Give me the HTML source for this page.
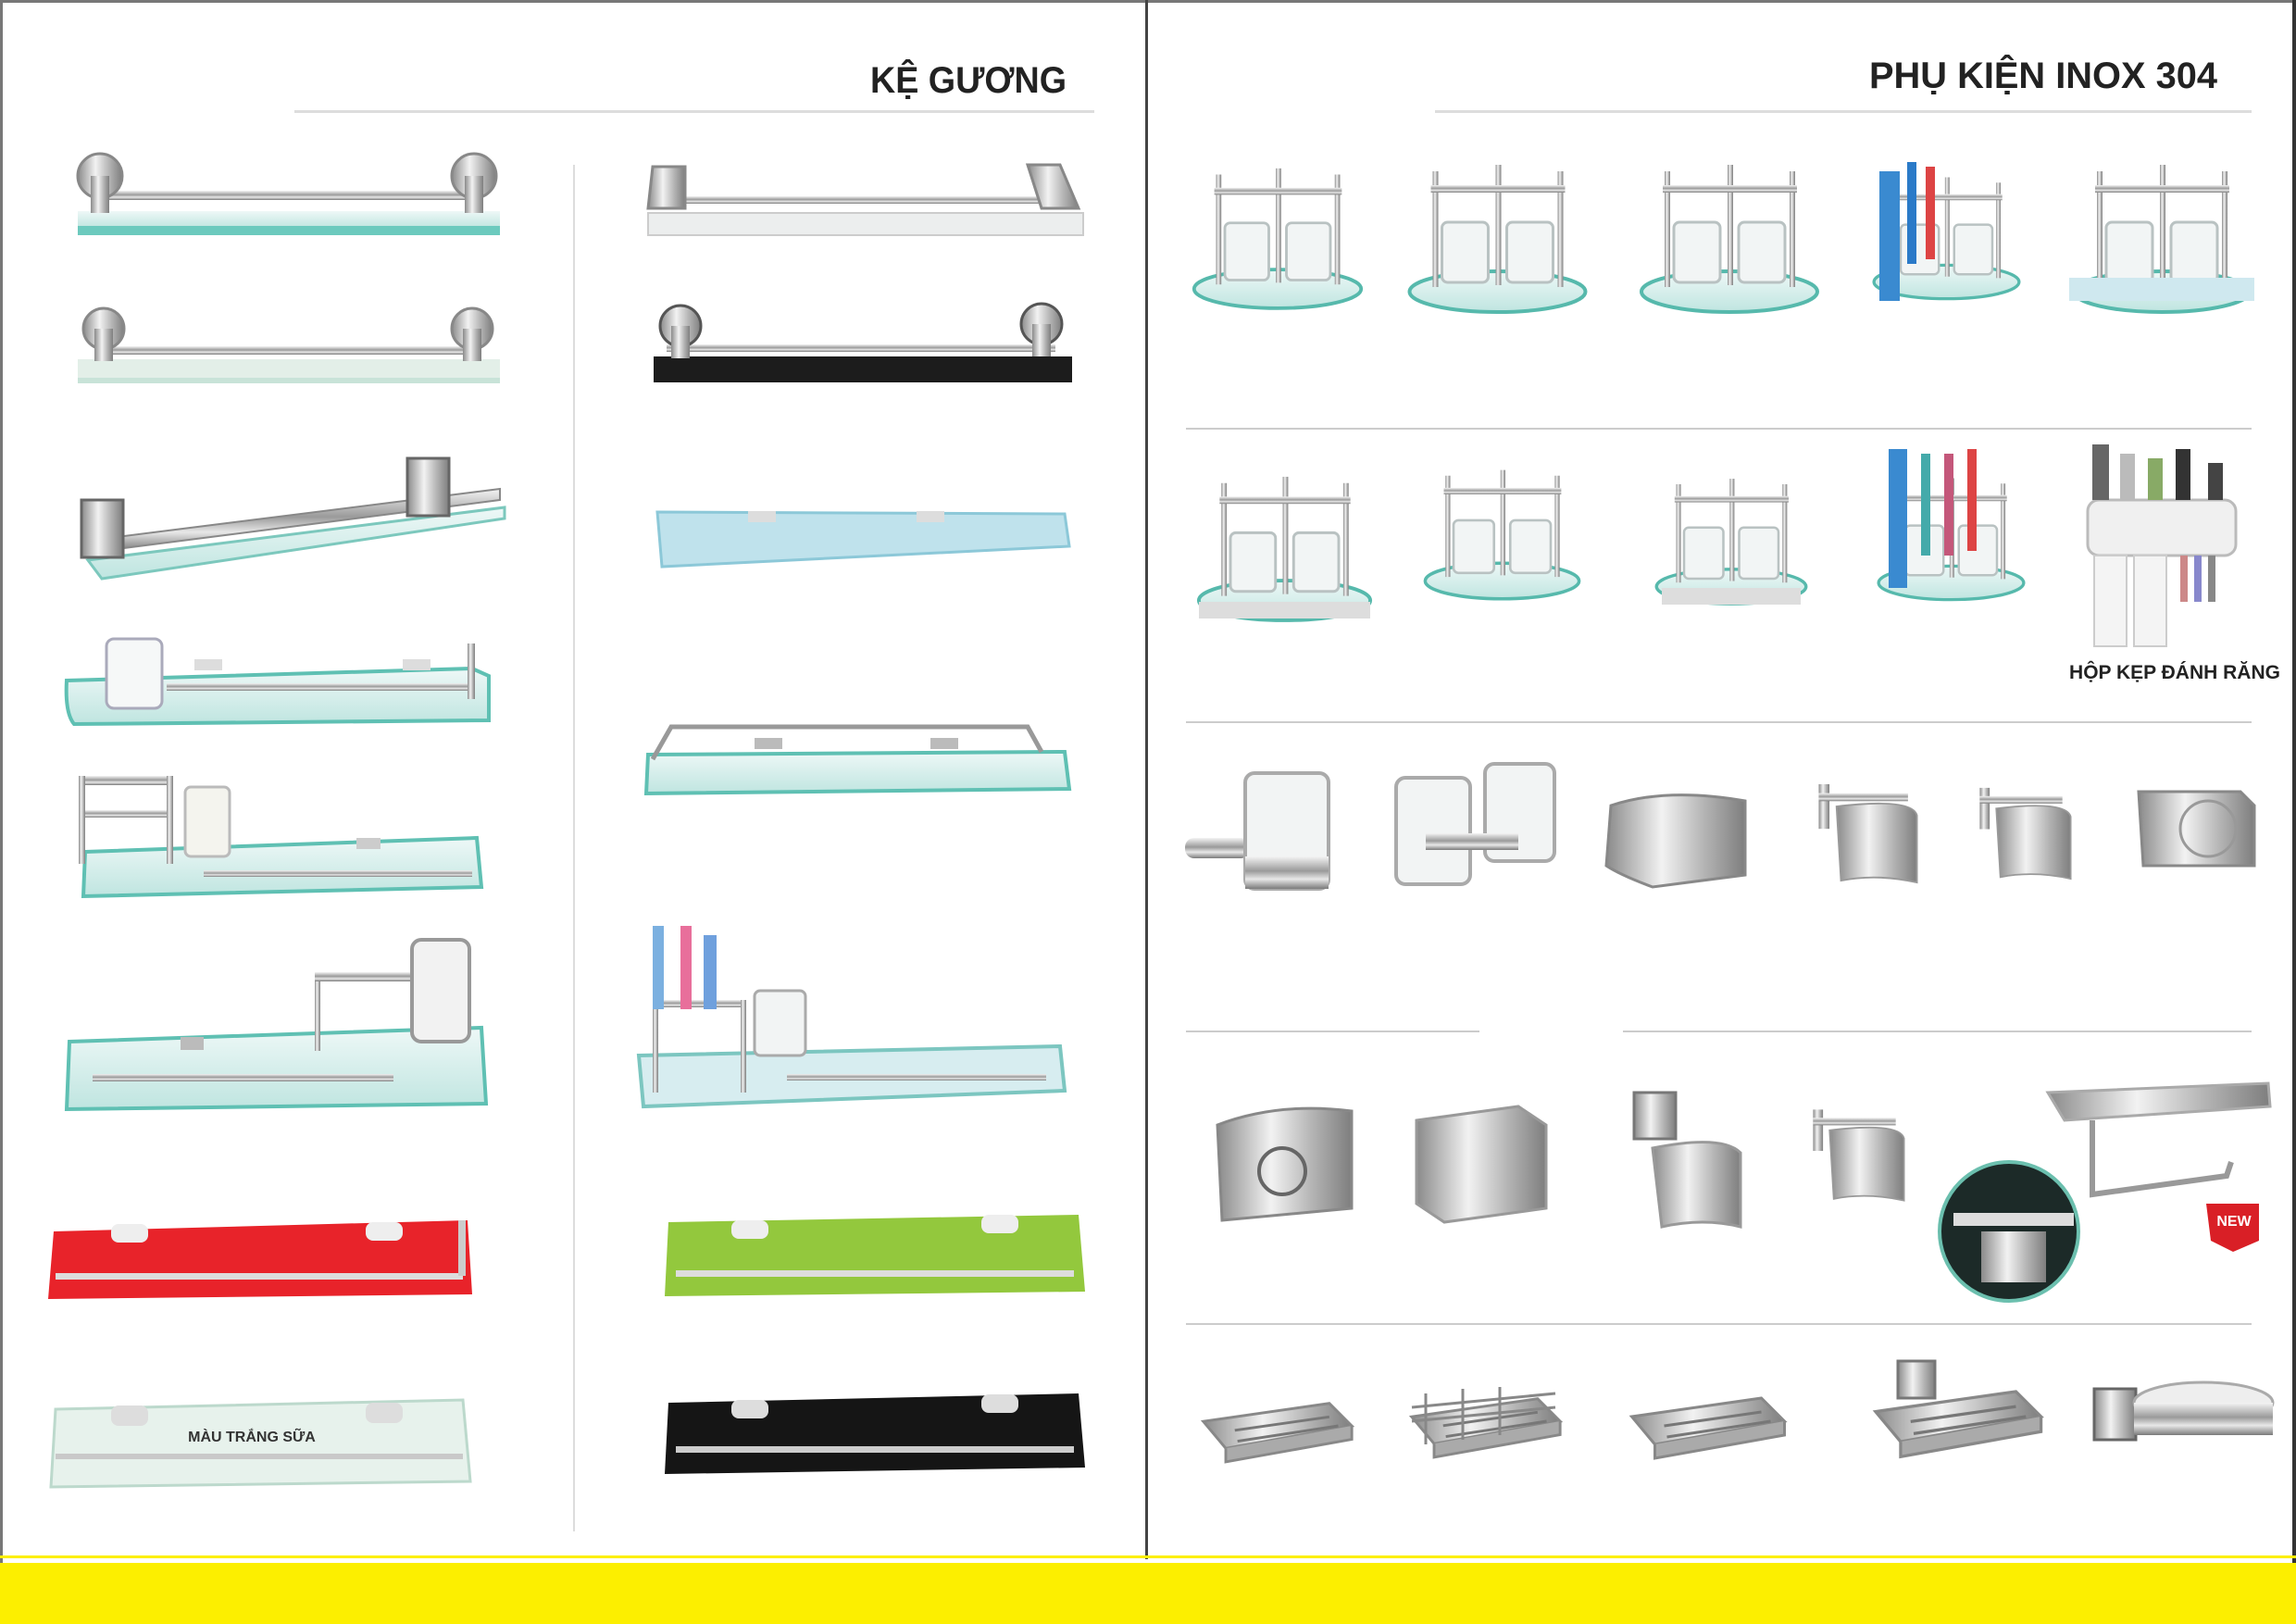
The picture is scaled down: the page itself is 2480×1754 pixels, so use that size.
<!DOCTYPE html>
<html><head><meta charset="utf-8"><style>
html,body{margin:0;padding:0;background:#fff}
svg{display:block}
text{font-family:"Liberation Sans","DejaVu Sans",sans-serif;font-weight:bold}
</style></head><body>
<svg width="2480" height="1754" viewBox="0 0 2480 1754" xmlns="http://www.w3.org/2000/svg">
<defs>
<linearGradient id="mt" x1="0" y1="0" x2="0" y2="1"><stop offset="0" stop-color="#f4f4f4"/><stop offset=".45" stop-color="#9a9a9a"/><stop offset=".7" stop-color="#e8e8e8"/><stop offset="1" stop-color="#7a7a7a"/></linearGradient>
<linearGradient id="mh" x1="0" y1="0" x2="1" y2="0"><stop offset="0" stop-color="#8a8a8a"/><stop offset=".4" stop-color="#f2f2f2"/><stop offset=".7" stop-color="#b5b5b5"/><stop offset="1" stop-color="#7e7e7e"/></linearGradient>
<linearGradient id="gl" x1="0" y1="0" x2="0" y2="1"><stop offset="0" stop-color="#eef8f7"/><stop offset="1" stop-color="#bfe5e0"/></linearGradient>
<symbol id="caddy" viewBox="0 0 200 170"><ellipse cx="100" cy="145" rx="95" ry="22" fill="url(#gl)" stroke="#56b9ac" stroke-width="4"/><rect x="30" y="15" width="6" height="125" fill="url(#mh)"/><rect x="165" y="15" width="6" height="125" fill="url(#mh)"/><rect x="98" y="8" width="6" height="130" fill="url(#mh)"/><rect x="28" y="30" width="145" height="8" fill="url(#mt)"/><rect x="40" y="70" width="50" height="65" rx="6" fill="#f2f5f5" stroke="#b9c2c2" stroke-width="3"/><rect x="110" y="70" width="50" height="65" rx="6" fill="#f2f5f5" stroke="#b9c2c2" stroke-width="3"/></symbol>
<symbol id="tp" viewBox="0 0 140 130"><rect x="15" y="10" width="12" height="50" fill="url(#mh)"/><rect x="15" y="20" width="100" height="9" fill="url(#mt)"/><path d="M35 35 Q120 25 125 45 L125 120 Q80 110 40 118 Z" fill="url(#mh)" stroke="#999" stroke-width="2"/></symbol>
<symbol id="soap" viewBox="0 0 180 110"><path d="M10 50 L150 30 L175 55 L35 80 Z" fill="url(#mh)" stroke="#888" stroke-width="3"/><path d="M35 80 L35 95 L175 70 L175 55" fill="#aaa" stroke="#888" stroke-width="3"/><path d="M45 60 L150 45 M48 72 L160 55" stroke="#777" stroke-width="3"/></symbol>
</defs>

<rect x="0" y="0" width="2480" height="3" fill="#777"/>
<rect x="0" y="0" width="3" height="1690" fill="#777"/>
<rect x="2476" y="0" width="4" height="1690" fill="#333"/>
<rect x="1237" y="0" width="3" height="1684" fill="#444"/>
<rect x="0" y="1680" width="2480" height="3" fill="#fcef00"/>
<rect x="0" y="1688" width="2480" height="66" fill="#fcef00"/>

<text x="940" y="100" font-size="40" fill="#222" textLength="212" lengthAdjust="spacingAndGlyphs">KỆ GƯƠNG</text>
<rect x="318" y="119" width="864" height="3" fill="#ddd"/>
<text x="2019" y="95" font-size="40" fill="#222" textLength="376" lengthAdjust="spacingAndGlyphs">PHỤ KIỆN INOX 304</text>
<rect x="1550" y="119" width="882" height="3" fill="#ddd"/>
<rect x="619" y="178" width="2" height="1476" fill="#ddd"/>

<g>
<rect x="84" y="228" width="456" height="18" fill="url(#gl)"/><rect x="84" y="244" width="456" height="10" fill="#6ccabe"/>
<rect x="105" y="206" width="410" height="10" fill="url(#mt)"/>
<circle cx="108" cy="190" r="24" fill="url(#mh)" stroke="#888" stroke-width="3"/><circle cx="512" cy="190" r="24" fill="url(#mh)" stroke="#888" stroke-width="3"/>
<rect x="98" y="190" width="20" height="40" fill="url(#mh)"/><rect x="502" y="190" width="20" height="40" fill="url(#mh)"/>
</g>
<g>
<rect x="84" y="388" width="456" height="26" fill="#e3efe8"/><rect x="84" y="408" width="456" height="6" fill="#c8e3d8"/>
<rect x="105" y="374" width="410" height="9" fill="url(#mt)"/>
<circle cx="112" cy="355" r="22" fill="url(#mh)" stroke="#888" stroke-width="3"/><circle cx="510" cy="355" r="22" fill="url(#mh)" stroke="#888" stroke-width="3"/>
<rect x="102" y="355" width="20" height="35" fill="url(#mh)"/><rect x="500" y="355" width="20" height="35" fill="url(#mh)"/>
</g>
<g>
<polygon points="95,605 545,548 545,560 110,625" fill="url(#gl)" stroke="#7cc8bd" stroke-width="3"/>
<polygon points="110,582 540,528 540,540 110,595" fill="url(#mt)" stroke="#888" stroke-width="2"/>
<rect x="88" y="540" width="45" height="62" fill="url(#mh)" stroke="#666" stroke-width="3"/>
<rect x="440" y="495" width="45" height="62" fill="url(#mh)" stroke="#666" stroke-width="3"/>
</g>
<g>
<path d="M72 735 L510 722 L528 730 L528 778 L80 782 Q70 770 72 735 Z" fill="url(#gl)" stroke="#5fc0b3" stroke-width="4"/>
<rect x="115" y="690" width="60" height="75" rx="8" fill="#f6f8f8" stroke="#aab" stroke-width="3"/>
<rect x="180" y="738" width="330" height="8" fill="url(#mt)"/>
<rect x="505" y="695" width="8" height="60" fill="url(#mh)"/>
<rect x="210" y="712" width="30" height="12" fill="#ddd"/><rect x="435" y="712" width="30" height="12" fill="#ddd"/>
</g>
<g>
<polygon points="92,920 515,905 520,958 90,968" fill="url(#gl)" stroke="#5fc0b3" stroke-width="4"/>
<rect x="85" y="838" width="100" height="10" fill="url(#mt)"/><rect x="85" y="875" width="100" height="8" fill="url(#mt)"/>
<rect x="85" y="838" width="7" height="95" fill="url(#mh)"/><rect x="180" y="838" width="7" height="95" fill="url(#mh)"/>
<rect x="200" y="850" width="48" height="75" rx="6" fill="#f4f4ee" stroke="#bbb" stroke-width="3"/>
<rect x="220" y="940" width="290" height="7" fill="url(#mt)"/>
<rect x="385" y="905" width="26" height="12" fill="#ccc"/>
</g>
<g>
<polygon points="75,1125 520,1110 525,1192 72,1198" fill="url(#gl)" stroke="#5fc0b3" stroke-width="4"/>
<rect x="100" y="1160" width="325" height="8" fill="url(#mt)"/>
<rect x="195" y="1120" width="25" height="14" fill="#bbb"/>
<rect x="340" y="1050" width="120" height="10" fill="url(#mt)"/>
<rect x="340" y="1060" width="6" height="75" fill="url(#mh)"/>
<rect x="445" y="1015" width="62" height="110" rx="10" fill="#f2f2f2" stroke="#999" stroke-width="4"/>
</g>
<g>
<polygon points="58,1330 505,1318 510,1398 52,1403" fill="#e8232a"/>
<rect x="60" y="1375" width="440" height="7" fill="#ddd"/>
<rect x="120" y="1322" width="40" height="20" rx="8" fill="#eee"/><rect x="395" y="1320" width="40" height="20" rx="8" fill="#eee"/>
<rect x="495" y="1318" width="8" height="60" fill="#ccc"/>
</g>
<g>
<polygon points="60,1522 500,1512 508,1600 55,1606" fill="#e7f2ec" stroke="#bcd9cc" stroke-width="3"/>
<rect x="60" y="1570" width="440" height="6" fill="#c9c9c9"/>
<rect x="120" y="1518" width="40" height="22" rx="8" fill="#ddd"/><rect x="395" y="1515" width="40" height="22" rx="8" fill="#ddd"/>
<text x="272" y="1557" font-size="16" fill="#333" text-anchor="middle">MÀU TRẮNG SỮA</text>
</g>

<g>
<rect x="700" y="230" width="470" height="24" fill="#eceeee" stroke="#ccc" stroke-width="2"/>
<rect x="715" y="212" width="440" height="8" fill="url(#mt)"/>
<polygon points="705,180 740,180 740,225 700,225" fill="url(#mh)" stroke="#888" stroke-width="3"/>
<polygon points="1110,178 1145,178 1165,225 1125,225" fill="url(#mh)" stroke="#888" stroke-width="3"/>
</g>
<g>
<rect x="706" y="385" width="452" height="28" fill="#1c1c1c"/>
<rect x="720" y="372" width="420" height="8" fill="url(#mt)"/>
<circle cx="735" cy="352" r="22" fill="url(#mh)" stroke="#555" stroke-width="3"/><circle cx="1125" cy="350" r="22" fill="url(#mh)" stroke="#555" stroke-width="3"/>
<rect x="725" y="352" width="20" height="35" fill="url(#mh)"/><rect x="1115" y="350" width="20" height="35" fill="url(#mh)"/>
</g>
<g>
<polygon points="710,553 1150,555 1155,590 715,612" fill="#bfe2ec" stroke="#8cc8d8" stroke-width="3"/>
<rect x="808" y="552" width="30" height="12" fill="#ddd"/><rect x="990" y="552" width="30" height="12" fill="#ddd"/>
</g>
<g>
<polygon points="700,815 1150,812 1155,852 698,857" fill="url(#gl)" stroke="#5fc0b3" stroke-width="4"/>
<polyline points="705,820 725,785 1110,785 1125,812" fill="none" stroke="#999" stroke-width="5"/>
<rect x="815" y="797" width="30" height="12" fill="#bbb"/><rect x="1005" y="797" width="30" height="12" fill="#bbb"/>
</g>
<g>
<polygon points="690,1140 1145,1130 1150,1178 695,1195" fill="#d7edf0" stroke="#7cc6c0" stroke-width="4"/>
<rect x="705" y="1080" width="100" height="8" fill="url(#mt)"/>
<rect x="705" y="1080" width="6" height="100" fill="url(#mh)"/><rect x="800" y="1080" width="6" height="100" fill="url(#mh)"/>
<rect x="705" y="1000" width="12" height="90" fill="#7bb0e0"/><rect x="735" y="1000" width="12" height="90" fill="#e86f9b"/><rect x="760" y="1010" width="14" height="80" fill="#6fa0dd"/>
<rect x="815" y="1070" width="55" height="70" rx="6" fill="#f2f4f4" stroke="#aaa" stroke-width="3"/>
<rect x="850" y="1160" width="280" height="7" fill="url(#mt)"/>
</g>
<g>
<polygon points="722,1320 1165,1312 1172,1395 718,1400" fill="#93c83d"/>
<rect x="730" y="1372" width="430" height="7" fill="#ddd"/>
<rect x="790" y="1318" width="40" height="20" rx="8" fill="#eee"/><rect x="1060" y="1312" width="40" height="20" rx="8" fill="#eee"/>
</g>
<g>
<polygon points="722,1515 1165,1505 1172,1585 718,1592" fill="#151515"/>
<rect x="730" y="1562" width="430" height="7" fill="#ccc"/>
<rect x="790" y="1512" width="40" height="20" rx="8" fill="#ddd"/><rect x="1060" y="1506" width="40" height="20" rx="8" fill="#ddd"/>
</g>

<rect x="1281" y="462" width="1151" height="2" fill="#ccc"/>
<rect x="1281" y="779" width="1151" height="2" fill="#ccc"/>
<rect x="1281" y="1113" width="317" height="2" fill="#ccc"/>
<rect x="1753" y="1113" width="679" height="2" fill="#ccc"/>
<rect x="1281" y="1429" width="1151" height="2" fill="#ccc"/>

<use href="#caddy" x="1285" y="170" width="190" height="170"/>
<use href="#caddy" x="1515" y="170" width="205" height="170"/>
<use href="#caddy" x="1768" y="170" width="200" height="170"/>
<use href="#caddy" x="2020" y="170" width="165" height="170"/>
<rect x="2030" y="185" width="22" height="140" fill="#3a8ad0"/><rect x="2060" y="175" width="10" height="110" fill="#2a7ac8"/><rect x="2080" y="180" width="10" height="100" fill="#d44"/>
<use href="#caddy" x="2235" y="170" width="200" height="170"/>
<rect x="2235" y="300" width="200" height="25" fill="#cfe8ef"/>

<use href="#caddy" x="1290" y="500" width="195" height="180"/>
<rect x="1295" y="650" width="185" height="18" fill="#ddd"/>
<use href="#caddy" x="1535" y="480" width="175" height="190"/>
<use href="#caddy" x="1785" y="495" width="170" height="175"/>
<rect x="1795" y="635" width="150" height="18" fill="#ddd"/>
<use href="#caddy" x="2025" y="500" width="165" height="160"/>
<rect x="2040" y="485" width="20" height="150" fill="#3a8ad0"/><rect x="2075" y="490" width="10" height="110" fill="#4aa"/><rect x="2100" y="490" width="10" height="110" fill="#c4577a"/><rect x="2125" y="485" width="10" height="110" fill="#d44"/>
<rect x="2255" y="540" width="160" height="60" rx="12" fill="#f0f0f0" stroke="#bbb" stroke-width="3"/>
<rect x="2262" y="600" width="35" height="98" fill="#f4f4f4" stroke="#ccc" stroke-width="2"/>
<rect x="2305" y="600" width="35" height="98" fill="#f4f4f4" stroke="#ccc" stroke-width="2"/>
<rect x="2260" y="480" width="18" height="60" fill="#666"/><rect x="2290" y="490" width="16" height="50" fill="#bbb"/><rect x="2320" y="495" width="16" height="45" fill="#8a6"/><rect x="2350" y="485" width="16" height="55" fill="#333"/><rect x="2385" y="500" width="16" height="40" fill="#444"/>
<rect x="2355" y="600" width="8" height="50" fill="#c88"/><rect x="2370" y="600" width="8" height="50" fill="#88c"/><rect x="2385" y="600" width="8" height="50" fill="#888"/>
<text x="2349" y="733" font-size="21" fill="#222" text-anchor="middle">HỘP KẸP ĐÁNH RĂNG</text>

<rect x="1280" y="905" width="70" height="22" rx="10" fill="url(#mt)"/>
<rect x="1345" y="835" width="90" height="125" rx="10" fill="#f2f4f4" stroke="#aaa" stroke-width="4"/>
<rect x="1345" y="925" width="90" height="35" fill="url(#mt)"/>
<rect x="1508" y="840" width="80" height="115" rx="10" fill="#f2f4f4" stroke="#aaa" stroke-width="4"/>
<rect x="1604" y="825" width="75" height="105" rx="10" fill="#f2f4f4" stroke="#aaa" stroke-width="4"/>
<rect x="1540" y="900" width="100" height="18" fill="url(#mt)"/>
<path d="M1740 870 Q1800 850 1885 865 L1885 945 L1785 958 Q1750 945 1735 935 Z" fill="url(#mh)" stroke="#888" stroke-width="3"/>
<use href="#tp" x="1950" y="830" width="135" height="140"/>
<use href="#tp" x="2125" y="825" width="125" height="150"/>
<path d="M2310 855 L2420 855 L2435 870 L2435 935 L2315 935 Z" fill="url(#mh)" stroke="#888" stroke-width="3"/>
<circle cx="2385" cy="895" r="30" fill="none" stroke="#999" stroke-width="3"/>

<path d="M1315 1215 Q1380 1190 1460 1200 L1460 1305 L1320 1318 Z" fill="url(#mh)" stroke="#888" stroke-width="3"/>
<circle cx="1385" cy="1265" r="25" fill="none" stroke="#666" stroke-width="4"/>
<polygon points="1530,1210 1640,1195 1670,1215 1670,1305 1560,1320 1530,1300" fill="url(#mh)" stroke="#999" stroke-width="3"/>
<rect x="1765" y="1180" width="45" height="50" fill="url(#mh)" stroke="#777" stroke-width="3"/>
<path d="M1785 1240 Q1860 1225 1880 1245 L1880 1325 Q1840 1315 1795 1325 Z" fill="url(#mh)" stroke="#999" stroke-width="3"/>
<use href="#tp" x="1945" y="1175" width="125" height="145"/>
<circle cx="2170" cy="1330" r="75" fill="#1c2a28" stroke="#6bbfae" stroke-width="4"/>
<rect x="2110" y="1310" width="130" height="14" fill="#ddd"/><rect x="2140" y="1330" width="70" height="55" fill="url(#mh)"/>
<polygon points="2212,1180 2450,1170 2452,1195 2230,1210" fill="url(#mh)" stroke="#aaa" stroke-width="3"/>
<path d="M2260 1210 L2260 1290 L2405 1270 L2410 1255" fill="none" stroke="#999" stroke-width="6"/>
<path d="M2383 1300 L2440 1300 L2440 1340 L2412 1352 L2388 1340 Z" fill="#d91f26"/>
<text x="2413" y="1324" font-size="16" fill="#fff" text-anchor="middle">NEW</text>

<use href="#soap" x="1290" y="1485" width="175" height="110"/>
<use href="#soap" x="1515" y="1480" width="175" height="110"/>
<path d="M1525 1520 L1680 1505 M1525 1535 L1680 1520 M1540 1505 L1540 1560 M1580 1500 L1580 1555 M1620 1498 L1620 1550" stroke="#888" stroke-width="3"/>
<use href="#soap" x="1735" y="1480" width="215" height="110"/>
<use href="#soap" x="2015" y="1470" width="195" height="120"/>
<rect x="2050" y="1470" width="40" height="40" fill="url(#mh)" stroke="#777" stroke-width="3"/>
<rect x="2262" y="1500" width="45" height="55" fill="url(#mh)" stroke="#666" stroke-width="3"/>
<ellipse cx="2380" cy="1515" rx="75" ry="22" fill="#eee" stroke="#aaa" stroke-width="3"/>
<rect x="2305" y="1515" width="150" height="35" fill="url(#mt)"/>
</svg>
</body></html>
